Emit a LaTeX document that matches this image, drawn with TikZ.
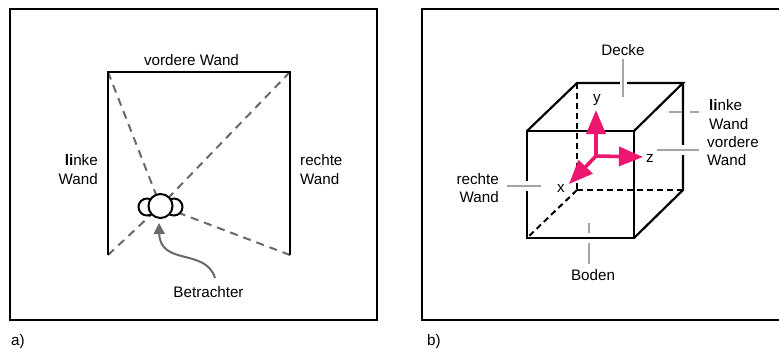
\documentclass[tikz,border=0pt]{standalone}
\usepackage{fontspec}
\setmainfont{Liberation Sans}
\usepackage{xcolor}
\usetikzlibrary{positioning,arrows.meta}
\definecolor{axispink}{RGB}{236,22,112}
\definecolor{dashgray}{RGB}{105,105,105}
\definecolor{leadgray}{RGB}{165,165,165}
\tikzset{
  lbl/.style   ={font=\fontsize{15.2}{18.5}\selectfont, inner sep=0pt, align=center},
  wall/.style  ={draw=black, line width=2.2pt, line join=miter},
  sight/.style ={draw=dashgray, line width=2pt, dash pattern=on 8pt off 6pt},
  hid/.style   ={draw=black, line width=2pt, dash pattern=on 6pt off 4pt},
  lead/.style  ={draw=leadgray, line width=2pt},
  halo/.style  ={draw=white, line width=7pt},
  ax/.style    ={-{Triangle[length=24pt,width=19pt]}, draw=axispink, line width=3.6pt},
  ear/.style   ={circle, draw=black, fill=white, line width=2pt, minimum size=17pt, inner sep=0pt},
  face/.style  ={circle, draw=black, fill=white, line width=2pt, minimum size=24pt, inner sep=0pt},
  look/.style  ={-{Triangle[length=11pt,width=11pt]}, draw=dashgray, line width=2pt},
}
\begin{document}
\begin{tikzpicture}[x=1pt,y=-1pt]
\useasboundingbox (0,0) rectangle (779,353);
\node[draw=black,line width=2pt,minimum width=367pt,minimum height=311pt,inner sep=0pt] (framea) at (193.5,164.5) {};
\node[draw=black,line width=2pt,minimum width=362pt,minimum height=311pt,inner sep=0pt] (frameb) at (603,164.5) {};
\node[lbl] (laba) at (18,342) {a)};
\node[lbl] (labb) at (434,342) {b)};
\coordinate (fl) at (108,72); \coordinate (fr) at (290,72);
\coordinate (bl) at (108,255); \coordinate (br) at (290,255);
\coordinate (eye) at (160.5,206);
\draw[sight] (fl)--(eye); \draw[sight] (fr)--(eye);
\draw[sight] (bl)--(eye); \draw[sight] (br)--(eye);
\draw[wall] (bl)--(fl)--(fr)--(br);
\node[ear] (earl) at (147,207) {};
\node[ear] (earr) at (174,207) {};
\node[face] (head) at (eye) {};
\node[lbl] (front) at (191.5,60) {vordere Wand};
\node[lbl,align=right,anchor=east] (left) at (98,169.5) {\textbf{li}nke\\Wand};
\node[lbl,align=left,anchor=west] (right) at (300,169.5) {rechte\\Wand};
\node[lbl] (viewer) at (208.5,292) {Betrachter};
\coordinate (tip) at (159,223);
\draw[look] (215,278) .. controls (206,248) and (160,266) .. (tip);
\coordinate (a) at (527,131); \coordinate (b) at (634,131);
\coordinate (c) at (634,238); \coordinate (d) at (527,238);
\coordinate (e) at (577,83); \coordinate (f) at (683,83);
\coordinate (g) at (683,190); \coordinate (h) at (577,190);
\draw[hid] (e)--(h); \draw[hid] (h)--(g); \draw[hid] (h)--(d);
\draw[wall] (a)--(b)--(c)--(d)--cycle;
\draw[wall] (a)--(e)--(f)--(b);
\draw[wall] (f)--(g)--(c);
\coordinate (o) at (596,156);
\draw[ax] (o)--++(0,-46) coordinate (yend);
\draw[ax] (o)--++(47,1) coordinate (zend);
\draw[ax] (o)--++(-27,28) coordinate (xend);
\node[lbl] (ylab) at (597,100) {y};
\node[lbl] (zlab) at (650,158) {z};
\node[lbl] (xlab) at (561,188) {x};
\node[lbl] (top) at (623,50) {Decke};
\node[lbl] (bottom) at (593,275) {Boden};
\node[lbl,align=right,anchor=east] (rwall) at (499,188) {rechte\\Wand};
\node[lbl,align=left,anchor=west] (lwall) at (709,114.5) {\textbf{li}nke\\Wand};
\node[lbl,align=left,anchor=west] (fwall) at (707,151) {vordere\\Wand};
\draw[halo] (623,78)--(623,88);
\draw[lead] (623,59)--(623,97);
\draw[lead] (669,112)--(682,112); \draw[lead] (690,112)--(699,112);
\draw[halo] (683,145)--(683,155);
\draw[lead] (657,150)--(699,150);
\draw[halo] (527,181)--(527,191);
\draw[lead] (507,186)--(541,186);
\draw[lead] (589,223)--(589,233); \draw[lead] (589,243)--(589,264);
\end{tikzpicture}
\end{document}
